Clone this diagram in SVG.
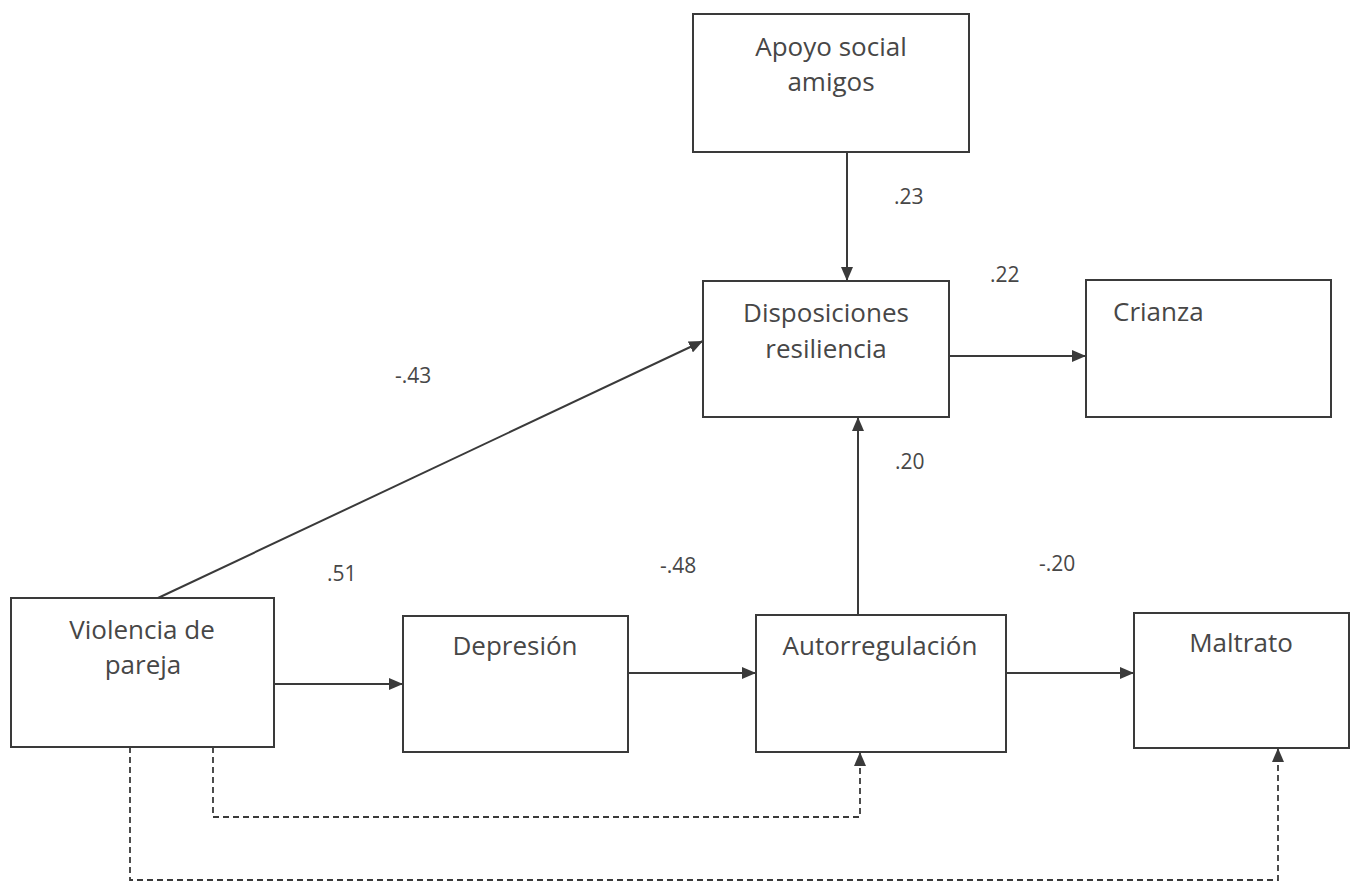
<svg xmlns="http://www.w3.org/2000/svg" width="1355" height="884" viewBox="0 0 1355 884">
<defs>
<marker id="ah" viewBox="0 0 14 12" refX="14" refY="6" markerWidth="14" markerHeight="12" markerUnits="userSpaceOnUse" orient="auto">
<path d="M0,0 L14,6 L0,12 Z" fill="#3a3a3a"/>
</marker>
</defs>
<style>
.box{fill:#fff;stroke:#3a3a3a;stroke-width:2}
.t{font-family:"Open Sans","Noto Sans",sans-serif;font-size:26px;fill:#474747}
.c{text-anchor:middle}
.l{font-family:"Open Sans","Noto Sans",sans-serif;font-size:21px;fill:#474747}
.e{fill:none;stroke:#3a3a3a;stroke-width:2}
.d{fill:none;stroke:#3a3a3a;stroke-width:1.8;stroke-dasharray:6,4}
</style>
<rect width="1355" height="884" fill="#fff"/>
<g id="connectors">
<line class="e" x1="847" y1="152" x2="847" y2="281" marker-end="url(#ah)"/>
<line class="e" x1="158" y1="598" x2="703" y2="341" marker-end="url(#ah)"/>
<line class="e" x1="949" y1="356" x2="1086" y2="356" marker-end="url(#ah)"/>
<line class="e" x1="858" y1="615" x2="858" y2="417" marker-end="url(#ah)"/>
<line class="e" x1="274" y1="684" x2="403" y2="684" marker-end="url(#ah)"/>
<line class="e" x1="628" y1="673" x2="756" y2="673" marker-end="url(#ah)"/>
<line class="e" x1="1006" y1="673" x2="1134" y2="673" marker-end="url(#ah)"/>
<polyline class="d" points="213,747 213,817 860,817 860,752" marker-end="url(#ah)"/>
<polyline class="d" points="130,747 130,880 1278,880 1278,748" marker-end="url(#ah)"/>
</g>
<g id="labels">
<text class="l" x="894" y="204">.23</text>
<text class="l" x="990" y="282">.22</text>
<text class="l" x="395" y="383">-.43</text>
<text class="l" x="895" y="469">.20</text>
<text class="l" x="327" y="581">.51</text>
<text class="l" x="660" y="573">-.48</text>
<text class="l" x="1039" y="571">-.20</text>
</g>
<g id="apoyo">
<rect class="box" x="693" y="14" width="276" height="138"/>
<text class="t c" x="831" y="56">Apoyo social</text>
<text class="t c" x="831" y="91">amigos</text>
</g>
<g id="disposiciones">
<rect class="box" x="703" y="281" width="246" height="136"/>
<text class="t c" x="826" y="322">Disposiciones</text>
<text class="t c" x="826" y="358">resiliencia</text>
</g>
<g id="crianza">
<rect class="box" x="1086" y="280" width="245" height="137"/>
<text class="t" x="1113" y="321">Crianza</text>
</g>
<g id="violencia">
<rect class="box" x="11" y="598" width="263" height="149"/>
<text class="t c" x="142" y="639">Violencia de</text>
<text class="t c" x="143" y="674">pareja</text>
</g>
<g id="depresion">
<rect class="box" x="403" y="616" width="225" height="136"/>
<text class="t c" x="515" y="655">Depresión</text>
</g>
<g id="autorregulacion">
<rect class="box" x="756" y="615" width="250" height="137"/>
<text class="t c" x="880" y="655">Autorregulación</text>
</g>
<g id="maltrato">
<rect class="box" x="1134" y="613" width="215" height="135"/>
<text class="t c" x="1241" y="652">Maltrato</text>
</g>
</svg>
